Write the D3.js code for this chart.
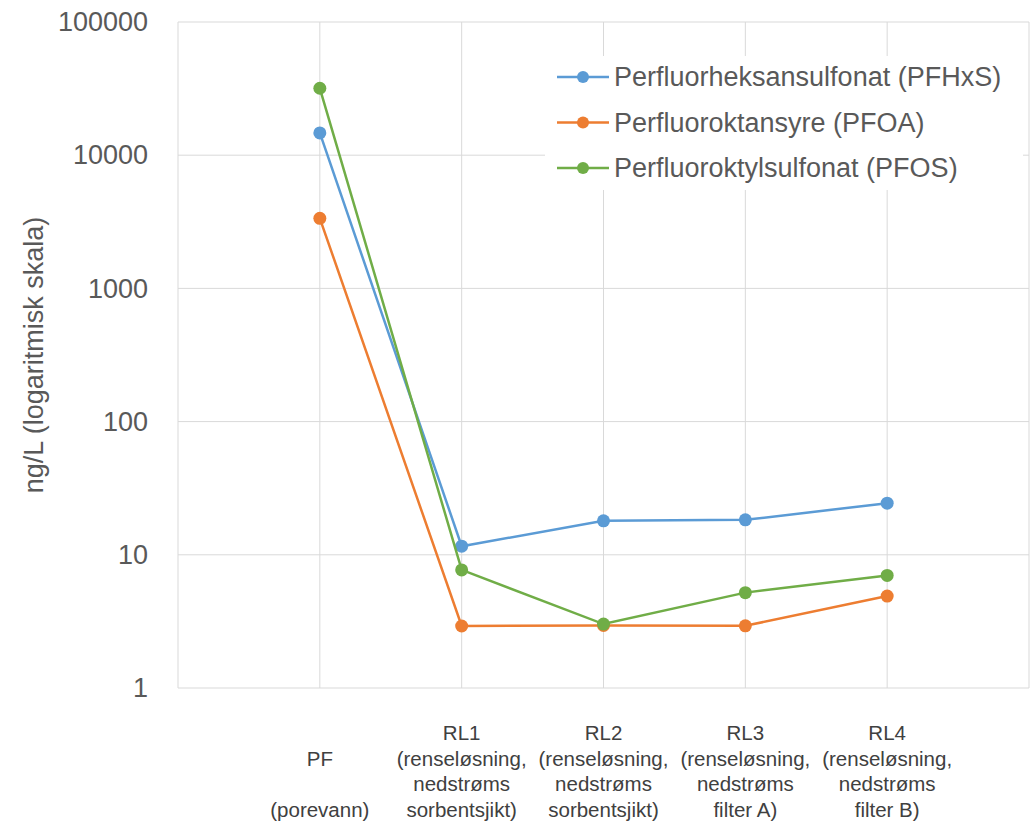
<!DOCTYPE html>
<html>
<head>
<meta charset="utf-8">
<script src="https://cdn.jsdelivr.net/npm/d3@7"></script>
<style>
  body { margin: 0; background: #fff; }
  text { font-family: "Liberation Sans", Arial, sans-serif; }
</style>
</head>
<body>
<div id="chart"></div>
<script>
// categories and their multi-line labels
var categories = ["PF", "RL1", "RL2", "RL3", "RL4"];
var categoryLabels = [
    ["", "PF", "", "(porevann)"],
    ["RL1", "(renseløsning,", "nedstrøms", "sorbentsjikt)"],
    ["RL2", "(renseløsning,", "nedstrøms", "sorbentsjikt)"],
    ["RL3", "(renseløsning,", "nedstrøms", "filter A)"],
    ["RL4", "(renseløsning,", "nedstrøms", "filter B)"]
];

// series
var seriesNames = ["Perfluorheksansulfonat (PFHxS)", "Perfluoroktansyre (PFOA)", "Perfluoroktylsulfonat (PFOS)"];
var pfhxs = [14700, 11.6, 18.0, 18.3, 24.4];
var pfoa = [3360, 2.92, 2.95, 2.93, 4.9];
var pfos = [31800, 7.7, 3.02, 5.2, 7.0];
var seriesColors = ["#5B9BD5", "#ED7D31", "#70AD47"];

var yTicks = [1, 10, 100, 1000, 10000, 100000];

// dimensions
var margin = {top: 22, right: 4, bottom: 140, left: 178},
    width = 1033 - margin.left - margin.right,
    height = 828 - margin.top - margin.bottom;

var svg = d3.select("#chart")
    .append("svg")
        .attr("width", 1033)
        .attr("height", 828)
    .append("g")
        .attr("transform", "translate(" + margin.left + "," + margin.top + ")");

var x = d3.scalePoint()
    .domain(categories)
    .range([0, width])
    .padding(1);

var y = d3.scaleLog()
    .domain([1, 100000])
    .range([height, 0]);

// horizontal gridlines
svg.append("g")
    .selectAll("line")
    .data(yTicks)
    .enter()
    .append("line")
    .attr("x1", 0)
    .attr("x2", width)
    .attr("y1", function (d) { return y(d); })
    .attr("y2", function (d) { return y(d); })
    .style("stroke", "#d9d9d9")
    .style("stroke-width", 1);

// vertical gridlines at each category plus plot edges
var vLines = [0].concat(categories.map(function (c) { return x(c); })).concat([width]);
svg.append("g")
    .selectAll("line")
    .data(vLines)
    .enter()
    .append("line")
    .attr("x1", function (d) { return d; })
    .attr("x2", function (d) { return d; })
    .attr("y1", 0)
    .attr("y2", height)
    .style("stroke", "#d9d9d9")
    .style("stroke-width", 1);

// Y axis labels
var yAxis = svg.append("g")
    .attr("transform", "translate(-27,0)")
    .call(d3.axisLeft(y).tickValues(yTicks).tickFormat(d3.format("d")).tickSize(0));
yAxis.select(".domain").remove();
yAxis.selectAll("text")
    .style("font-family", "'Liberation Sans', Arial, sans-serif")
    .style("font-size", "27px")
    .style("fill", "#595959");

// Y axis title
svg.append("text")
    .attr("text-anchor", "middle")
    .attr("transform", "rotate(-90)")
    .attr("x", -(355 - margin.top))
    .attr("y", -margin.left + 43)
    .style("font-size", "27px")
    .style("fill", "#595959")
    .text("ng/L (logaritmisk skala)");

// X labels
var xLab = svg.append("g")
    .selectAll("text")
    .data(categories)
    .enter()
    .append("text")
    .attr("text-anchor", "middle")
    .attr("x", function (d) { return x(d); })
    .style("font-size", "20.5px")
    .style("fill", "#404040");
xLab.each(function (d, i) {
    var t = d3.select(this);
    categoryLabels[i].forEach(function (line, j) {
        t.append("tspan")
            .attr("x", x(d))
            .attr("y", height + 52 + j * 25.5)
            .text(line);
    });
});

// lines and markers
var allSeries = [pfhxs, pfoa, pfos];
var line = d3.line()
    .x(function (d, i) { return x(categories[i]); })
    .y(function (d) { return y(d); });

allSeries.forEach(function (values, s) {
    svg.append("path")
        .datum(values)
        .attr("d", line)
        .style("fill", "none")
        .style("stroke", seriesColors[s])
        .style("stroke-width", 2.5);
    svg.append("g")
        .selectAll("circle")
        .data(values)
        .enter()
        .append("circle")
        .attr("cx", function (d, i) { return x(categories[i]); })
        .attr("cy", function (d) { return y(d); })
        .attr("r", 6.5)
        .style("fill", seriesColors[s]);
});

// legend
var legend = svg.append("g")
    .attr("transform", "translate(" + (545 - margin.left) + "," + (56 - margin.top) + ")");
legend.append("rect")
    .attr("width", 478)
    .attr("height", 134)
    .style("fill", "#fff");
seriesNames.forEach(function (name, s) {
    var row = legend.append("g")
        .attr("transform", "translate(0," + (21 + s * 45.5) + ")");
    row.append("line")
        .attr("x1", 12).attr("x2", 64)
        .style("stroke", seriesColors[s])
        .style("stroke-width", 2.5);
    row.append("circle")
        .attr("cx", 38)
        .attr("r", 6)
        .style("fill", seriesColors[s]);
    row.append("text")
        .attr("x", 69)
        .attr("dy", "0.35em")
        .style("font-size", "27px")
        .style("fill", "#595959")
        .text(name);
});
</script>
</body>
</html>
